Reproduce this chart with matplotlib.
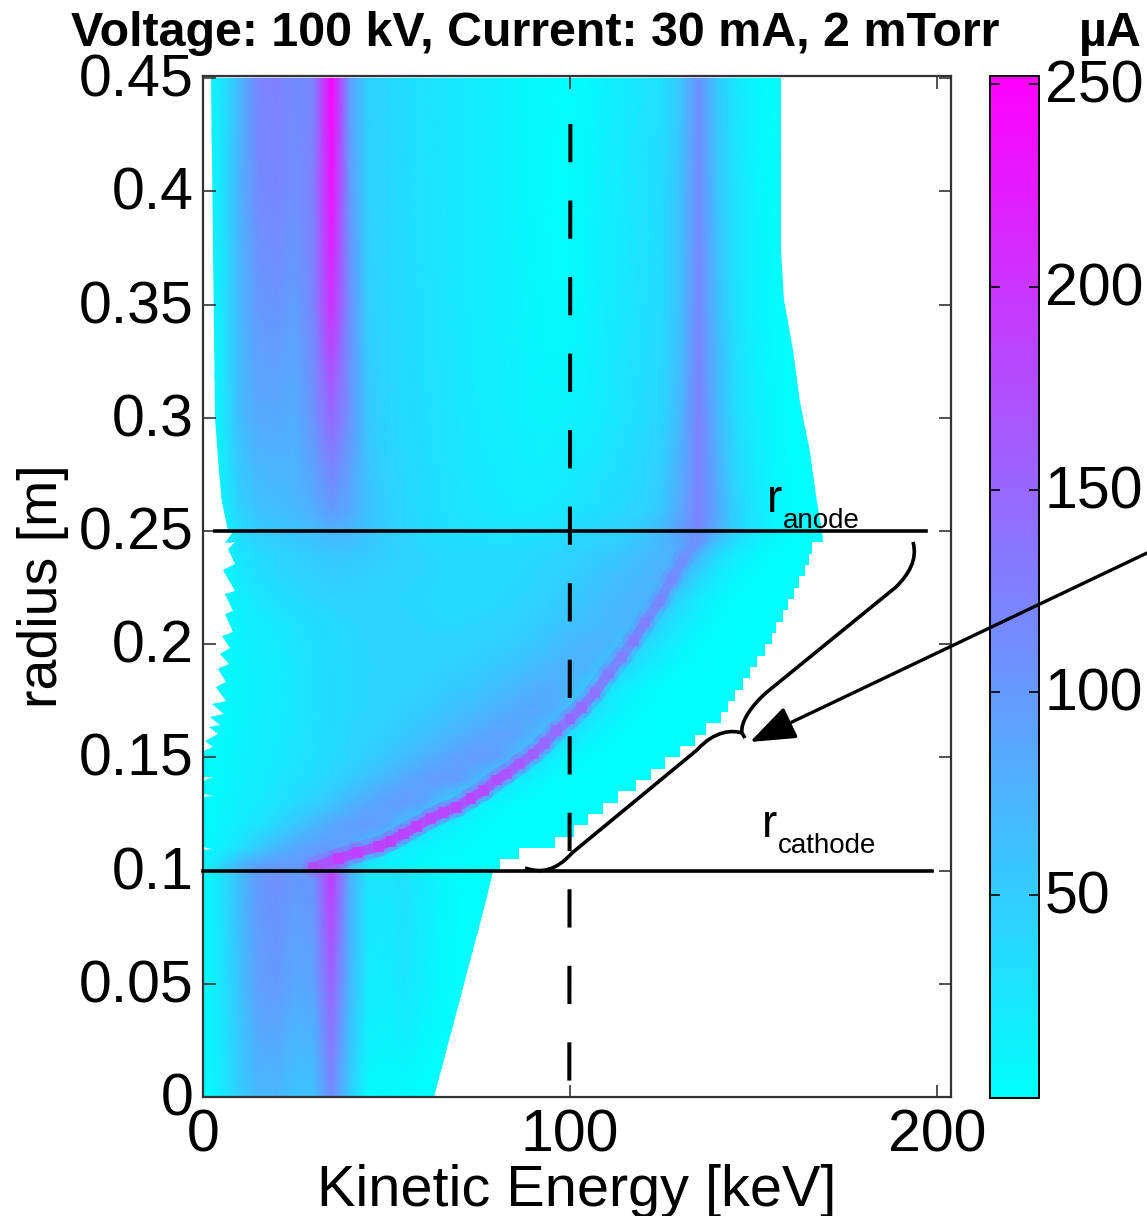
import numpy as np
import matplotlib
matplotlib.use('Agg')
import matplotlib.pyplot as plt
from matplotlib.collections import LineCollection
from matplotlib.path import Path
from matplotlib.patches import PathPatch, Polygon
from matplotlib.transforms import ScaledTranslation

plt.rcParams['font.family'] = ['Liberation Sans', 'DejaVu Sans']

# beam current map, uA, one row per radius
energy_kev = [0, 5, 10, 15, 20, 25, 30, 35, 40, 45, 50, 55, 60, 65, 70, 75, 80, 85, 90, 95, 100, 105,
              110, 115, 120, 125, 130, 135, 140, 145, 150, 155, 160, 165, 170]
radius_m = [0, 0.05, 0.098, 0.102, 0.11, 0.12, 0.13, 0.14, 0.15, 0.16, 0.17, 0.18, 0.19, 0.20, 0.21, 0.22,
            0.23, 0.24, 0.25, 0.26, 0.30, 0.35, 0.40, 0.45]
current_ua = [
    [3, 20, 50, 70, 70, 60, 60, 115, 50, 5, 3, 3, 0, 0, 0, 0, 0, 0, 0, 0, 0, 0, 0, 0, 0, 0, 0, 0, 0, 0, 0, 0, 0, 0, 0],
    [3, 25, 60, 95, 100, 85, 90, 155, 70, 20, 18, 25, 15, 6, 2, 0, 0, 0, 0, 0, 0, 0, 0, 0, 0, 0, 0, 0, 0, 0, 0, 0, 0, 0, 0],
    [3, 28, 65, 100, 110, 100, 105, 195, 80, 25, 25, 30, 20, 8, 3, 1, 0, 0, 0, 0, 0, 0, 0, 0, 0, 0, 0, 0, 0, 0, 0, 0, 0, 0, 0],
    [10, 40, 75, 95, 100, 100, 105, 130, 60, 20, 12, 8, 5, 3, 2, 0, 0, 0, 0, 0, 0, 0, 0, 0, 0, 0, 0, 0, 0, 0, 0, 0, 0, 0, 0],
    [5, 15, 30, 50, 70, 85, 95, 100, 90, 60, 25, 15, 10, 6, 4, 2, 0, 0, 0, 0, 0, 0, 0, 0, 0, 0, 0, 0, 0, 0, 0, 0, 0, 0, 0],
    [3, 10, 18, 28, 40, 55, 70, 85, 95, 100, 90, 60, 30, 18, 10, 5, 2, 0, 0, 0, 0, 0, 0, 0, 0, 0, 0, 0, 0, 0, 0, 0, 0, 0, 0],
    [3, 8, 14, 20, 28, 36, 45, 58, 72, 85, 95, 100, 90, 60, 30, 15, 8, 3, 0, 0, 0, 0, 0, 0, 0, 0, 0, 0, 0, 0, 0, 0, 0, 0, 0],
    [2, 7, 12, 18, 24, 29, 35, 43, 52, 62, 74, 85, 95, 100, 95, 70, 40, 20, 10, 4, 0, 0, 0, 0, 0, 0, 0, 0, 0, 0, 0, 0, 0, 0, 0],
    [2, 6, 11, 16, 21, 26, 30, 36, 42, 49, 56, 65, 75, 85, 95, 100, 95, 70, 35, 18, 8, 3, 0, 0, 0, 0, 0, 0, 0, 0, 0, 0, 0, 0, 0],
    [2, 5, 10, 15, 20, 25, 30, 35, 40, 44, 48, 54, 60, 68, 76, 85, 92, 90, 75, 50, 28, 14, 6, 1, 0, 0, 0, 0, 0, 0, 0, 0, 0, 0, 0],
    [2, 5, 9, 14, 19, 24, 29, 34, 38, 41, 44, 48, 52, 57, 64, 70, 78, 85, 88, 80, 60, 35, 18, 8, 3, 0, 0, 0, 0, 0, 0, 0, 0, 0, 0],
    [2, 5, 9, 14, 19, 24, 30, 34, 38, 40, 42, 44, 46, 50, 54, 58, 64, 72, 80, 84, 72, 50, 28, 14, 6, 2, 0, 0, 0, 0, 0, 0, 0, 0, 0],
    [2, 5, 9, 14, 19, 24, 30, 35, 38, 40, 42, 43, 44, 45, 47, 50, 54, 60, 66, 72, 78, 74, 58, 38, 22, 12, 4, 1, 0, 0, 0, 0, 0, 0, 0],
    [2, 5, 10, 15, 20, 26, 31, 35, 38, 41, 42, 42, 42, 42, 43, 45, 47, 50, 55, 62, 70, 74, 74, 60, 40, 24, 12, 4, 1, 0, 0, 0, 0, 0, 0],
    [2, 5, 12, 18, 23, 28, 33, 37, 40, 42, 42, 41, 40, 39, 39, 40, 42, 44, 48, 54, 60, 65, 70, 74, 64, 42, 24, 12, 4, 1, 0, 0, 0, 0, 0],
    [3, 5, 15, 24, 30, 35, 40, 44, 44, 44, 42, 40, 38, 36, 36, 37, 38, 40, 44, 48, 54, 60, 66, 72, 74, 65, 40, 20, 9, 3, 1, 0, 0, 0, 0],
    [3, 5, 20, 31, 37, 42, 46, 50, 48, 46, 44, 42, 40, 38, 37, 36, 36, 38, 40, 44, 48, 54, 60, 66, 72, 78, 72, 42, 20, 9, 3, 1, 0, 0, 0],
    [3, 6, 25, 36, 42, 47, 52, 56, 56, 52, 48, 44, 40, 37, 36, 36, 36, 36, 38, 40, 44, 48, 52, 58, 65, 72, 80, 72, 38, 20, 9, 3, 1, 0, 0],
    [0, 8, 35, 50, 55, 60, 65, 75, 70, 60, 50, 42, 36, 32, 30, 28, 26, 26, 28, 30, 34, 38, 42, 46, 55, 70, 95, 120, 80, 45, 25, 12, 5, 0, 0],
    [0, 12, 45, 60, 65, 70, 80, 100, 85, 60, 48, 40, 35, 30, 26, 24, 22, 20, 20, 22, 26, 30, 34, 38, 44, 55, 85, 125, 85, 45, 25, 10, 3, 0, 0],
    [0, 20, 65, 85, 85, 80, 105, 150, 105, 55, 42, 36, 32, 28, 24, 20, 17, 14, 10, 10, 12, 15, 22, 28, 34, 42, 70, 125, 75, 35, 18, 8, 2, 0, 0],
    [0, 22, 70, 100, 105, 95, 120, 205, 110, 48, 40, 35, 30, 27, 22, 18, 15, 12, 8, 5, 5, 10, 18, 24, 30, 36, 60, 120, 65, 30, 14, 5, 1, 0, 0],
    [0, 25, 75, 115, 120, 110, 125, 235, 100, 45, 40, 33, 28, 25, 22, 18, 14, 10, 6, 3, 3, 8, 15, 22, 28, 35, 60, 115, 60, 28, 12, 4, 0, 0, 0],
    [0, 25, 70, 120, 125, 115, 120, 250, 95, 45, 40, 35, 28, 25, 22, 18, 14, 10, 6, 4, 2, 6, 14, 20, 26, 32, 55, 110, 55, 25, 10, 3, 0, 0, 0],
]

# narrow ridge between cathode and anode
ridge_e = [30, 36.9, 42, 47.8, 51, 54.6, 58.2, 62, 65.5, 69.1, 73, 76.4, 80, 82.7, 86.3, 90, 93, 96.3, 100, 103.2,
           106.8, 110.4, 114, 117.2, 120.4, 124.5, 127.7, 130.8, 134.9]
ridge_r = [0.1015, 0.1052, 0.108, 0.1106, 0.113, 0.1162, 0.1195, 0.123, 0.1258, 0.128, 0.132, 0.1353, 0.14, 0.1427,
           0.1471, 0.1515, 0.156, 0.1618, 0.167, 0.172, 0.1787, 0.1868, 0.1942, 0.2015, 0.2096, 0.2192, 0.2287,
           0.2375, 0.2471]
ridge_i = [180, 195, 190, 190, 190, 190, 190, 185, 185, 185, 185, 180, 175, 170, 165, 160, 150, 145, 150, 145,
           140, 130, 125, 130, 125, 120, 115, 110, 105]

# outline of the region that has data
bottom_edge_e = [0, 63, 71, 77, 79]
bottom_edge_r = [0, 0, 0.05, 0.0866, 0.1]
step_edge_r = [0.1, 0.105, 0.11, 0.115, 0.12, 0.125, 0.13, 0.135, 0.14, 0.145, 0.15, 0.155, 0.16, 0.165, 0.17, 0.175,
               0.18, 0.185, 0.19, 0.195, 0.2, 0.205, 0.21, 0.215, 0.22, 0.225, 0.23, 0.235, 0.24]
step_edge_e = [81, 86, 96, 101, 105, 109, 113, 118, 122, 126, 130, 134, 137, 141, 143, 145, 147, 149, 151, 153, 155,
               156, 158, 159.5, 161, 162.5, 164, 165, 166]
upper_edge_e = [169, 168.7, 167.3, 165.4, 162.7, 160.8, 158.3, 157.5, 157.5]
upper_edge_r = [0.245, 0.25, 0.263, 0.285, 0.307, 0.33, 0.352, 0.374, 0.451]
left_edge_e = [2.2, 3.3, 4.4, 5.2, 6.8, 7.8, 6.0, 8.7, 6.9, 8.7, 5.5, 8.7, 6.0, 8.3, 6.0, 8.3, 5.1, 7.4, 4.6, 7.2,
               4.2, 6.3, 3.5, 6.3, 2.4, 5.7, 1.9, 4.6, 1.5, 4.2, 0.5, 2.6, 0.1, 0.1, 2.6, 0.1, 0.1, 2.6, 0.1, 0.1,
               2.4, 0.1, 0]
left_edge_r = [0.451, 0.3, 0.276, 0.263, 0.25, 0.2493, 0.2448, 0.2453, 0.2419, 0.2353, 0.2326, 0.2235, 0.2221,
               0.2147, 0.2132, 0.2052, 0.2037, 0.1985, 0.1956, 0.1912, 0.189, 0.1831, 0.1809, 0.175, 0.1736, 0.1694,
               0.1677, 0.1644, 0.1633, 0.1603, 0.1574, 0.1544, 0.153, 0.1415, 0.1415, 0.1397, 0.1339, 0.1331, 0.1324,
               0.1103, 0.1096, 0.1089, 0]

x_ticks = [0, 100, 200]
y_ticks = [0, 0.05, 0.1, 0.15, 0.2, 0.25, 0.3, 0.35, 0.4, 0.45]
y_labels = ['0', '0.05', '0.1', '0.15', '0.2', '0.25', '0.3', '0.35', '0.4', '0.45']
cbar_ticks = [50, 100, 150, 200, 250]

W, H = 1147, 1216
fig = plt.figure(figsize=(W / 100, H / 100), dpi=100)
ax = fig.add_axes([203 / W, (H - 1097) / H, 748 / W, 1021 / H])
cax = fig.add_axes([990 / W, (H - 1098) / H, 49 / W, 1022 / H])

X, Y = np.meshgrid(energy_kev, radius_m)
mesh = ax.pcolormesh(X, Y, np.array(current_ua, dtype=float), shading='gouraud', cmap='cool', vmin=0, vmax=252)

outline = list(zip(bottom_edge_e, bottom_edge_r))
for r, e in zip(step_edge_r, step_edge_e):
    outline += [(e, r), (e, r + 0.005)]
outline += list(zip(upper_edge_e, upper_edge_r)) + list(zip(left_edge_e, left_edge_r))
region = Polygon(outline, closed=True, transform=ax.transData, fill=False, edgecolor='none')
ax.add_patch(region)
mesh.set_clip_path(region)

# ridge: soft wide stroke, solid core, then the blocky beads on top
pts = np.column_stack([ridge_e, ridge_r])
segs = np.stack([pts[:-1], pts[1:]], axis=1)
for lw, alpha in [(15, 0.22), (7, 0.75)]:
    ridge_line = LineCollection(segs, cmap='cool', linewidths=lw, alpha=alpha, zorder=2, capstyle='round')
    ridge_line.set_array(np.array(ridge_i[:-1], dtype=float))
    ridge_line.set_clim(0, 252)
    ax.add_collection(ridge_line)
ax.scatter(ridge_e, ridge_r, c=ridge_i, s=60, marker='s', cmap='cool', vmin=0, vmax=252, alpha=0.8, linewidths=0, zorder=2)

ax.set_xlim(0, 203.8)
ax.set_ylim(0, 0.451)
ax.set_xticks(x_ticks)
ax.set_yticks(y_ticks)
ax.set_yticklabels(y_labels)
ax.tick_params(direction='in', length=9, width=1.2, color='#333333', top=True, right=True, labelsize=42.5, pad=7)
ax.tick_params(axis='x', pad=8)
for s in ax.spines.values():
    s.set_color('#333333')
    s.set_linewidth(1.6)
ax.set_xlabel('Kinetic Energy [keV]', fontsize=41.5, labelpad=0.5)
ax.set_ylabel('radius [m]', fontsize=40, labelpad=7)

cb = fig.colorbar(mesh, cax=cax)
cb.set_ticks(cbar_ticks)
cb.ax.tick_params(direction='in', length=7, width=1.2, left=True, right=True, labelsize=42.5, pad=4)
cb.outline.set_linewidth(1.4)

# tick labels sit a little high in the original
shift_up = ScaledTranslation(0, 3 / 100, fig.dpi_scale_trans)
for lab in ax.get_yticklabels() + cax.get_yticklabels():
    lab.set_transform(lab.get_transform() + shift_up)

ax.plot([3.3, 197], [0.25, 0.25], color='black', lw=2.6, clip_on=False, zorder=4)
ax.plot([0, 198.6], [0.1, 0.1], color='black', lw=2.6, clip_on=False, zorder=4)
ax.plot([100.1, 99.8], [0.4298, 0], color='black', lw=2.9, linestyle=(0, (9.5, 9.5)), zorder=4)

# annotations drawn in picture pixels on a transparent layer
ov = fig.add_axes([0, 0, 1, 1], zorder=10)
ov.set_xlim(0, W)
ov.set_ylim(H, 0)
ov.axis('off')

codes = [Path.MOVETO, Path.CURVE4, Path.CURVE4, Path.CURVE4, Path.LINETO, Path.CURVE4, Path.CURVE4, Path.CURVE4,
         Path.LINETO, Path.MOVETO, Path.CURVE4, Path.CURVE4, Path.CURVE4, Path.LINETO, Path.CURVE4, Path.CURVE4, Path.CURVE4]
verts = [(913, 542), (918, 560), (908, 575), (896, 587), (767, 692), (752, 705), (740, 722), (742, 733), (745, 738),
         (742, 733), (733, 730), (715, 730), (697, 750), (572, 853), (555, 872), (540, 873), (525, 868)]
ov.add_patch(PathPatch(Path(verts, codes), fill=False, edgecolor='black', lw=2.6))

ov.annotate('', xy=(750, 742), xytext=(1147, 553),
            arrowprops=dict(arrowstyle='-|>,head_length=2.0,head_width=0.75', color='black', lw=2.4,
                            shrinkA=0, shrinkB=0, mutation_scale=14))

ov.text(767, 512, 'r', fontsize=33, va='baseline')
ov.text(783, 528, 'anode', fontsize=20, va='baseline')
ov.text(762, 837, 'r', fontsize=33, va='baseline')
ov.text(778, 853, 'cathode', fontsize=20, va='baseline')
ov.text(71, 46, 'Voltage: 100 kV, Current: 30 mA, 2 mTorr', fontsize=34.8, fontweight='bold', va='baseline')
ov.text(1079, 46, 'µA', fontsize=34.8, fontweight='bold', va='baseline')

fig.savefig('out.png', dpi=100)
